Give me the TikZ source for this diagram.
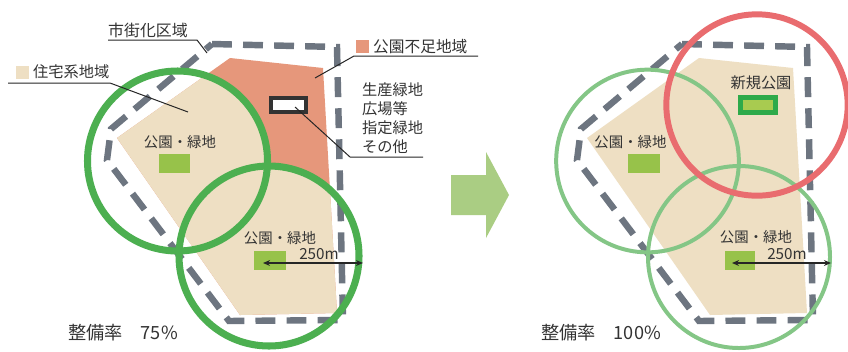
\documentclass[tikz,border=0pt]{standalone}
\usepackage{fontspec}
\setmainfont{Noto Sans CJK JP}
\usetikzlibrary{arrows.meta}
\definecolor{bndgray}{HTML}{6D7580}
\definecolor{gdark}{HTML}{4CAF50}
\definecolor{glight}{HTML}{84C686}
\definecolor{redc}{HTML}{E96C6F}
\definecolor{salmon}{HTML}{E6977B}
\definecolor{beige}{HTML}{EEDFC3}
\definecolor{parkg}{HTML}{97C24A}
\definecolor{newpb}{HTML}{2EAA4A}
\definecolor{newpf}{HTML}{A8CB50}
\definecolor{arrowg}{HTML}{AACD83}
\definecolor{txt}{HTML}{333333}
\begin{document}
\begin{tikzpicture}[x=0.03cm,y=-0.03cm,
  boundary/.style={draw=bndgray,line width=5.5pt,dash pattern=on 17pt off 9.5pt},
  ringA/.style={draw=gdark,line width=6pt},
  ringB/.style={draw=glight,line width=3.4pt},
  ringR/.style={draw=redc,line width=5.1pt},
  park/.style={fill=parkg},
  leader/.style={draw=black!85,line width=0.85pt},
  dist/.style={draw=black!85,line width=1.2pt,{Stealth[length=6pt,width=5pt]}-{Stealth[length=6pt,width=5pt]}},
  lbl/.style={text=txt,inner sep=0pt,font=\fontsize{13pt}{15pt}\selectfont},
  plbl/.style={text=txt,inner sep=0pt,font=\fontsize{12.3pt}{14pt}\selectfont},
  rate/.style={text=txt,inner sep=0pt,anchor=west,font=\fontsize{15.5pt}{18pt}\selectfont}]
\useasboundingbox (0,0) rectangle (848,351);
\fill[white] (0,0) rectangle (848,351);

% ---------- left diagram ----------
\fill[salmon] (117,138) -- (230,58) -- (323,68) -- (337,313) -- (240,315) -- cycle;
\begin{scope}
  \clip (117,138) -- (230,58) -- (323,68) -- (337,313) -- (240,315) -- cycle;
  \fill[beige] (177.5,161) circle[radius=2.7cm];
  \fill[beige] (269,256) circle[radius=2.7cm];
\end{scope}
\draw[boundary] (212,44) -- (337,47) -- (343,320) -- (229,321) -- (107,160) -- (111,129) -- cycle;
\draw[ringA] (177.5,161) circle[radius=2.7cm];
\draw[ringA] (269,256) circle[radius=2.7cm];
\fill[park] (159,154) rectangle (190,173);
\fill[park] (254,251) rectangle (286,270);
\draw[draw=txt,fill=white,line width=3.4pt] (271,98) rectangle (306,112);
\node[plbl] (pkL1) at (180,142) {公園・緑地};
\node[plbl] (pkL2) at (280,238) {公園・緑地};
\coordinate (dL1) at (263,263);
\coordinate (dL2) at (363,263);
\draw[dist] (dL1) -- (dL2);
\node[lbl] (mL) at (319,254) {250m};

% labels
\node[lbl,font=\fontsize{13.6pt}{16pt}\selectfont] (shigai) at (148,30) {市街化区域};
\coordinate (sg1) at (108,40);
\coordinate (sg2) at (197,40);
\coordinate (sg3) at (207,53);
\draw[leader] (sg1) -- (sg2) -- (sg3);

\fill[beige] (16,66) rectangle (29,79);
\node[lbl,anchor=west] (jutaku) at (33,72) {住宅系地域};
\coordinate (jt1) at (8,83);
\coordinate (jt2) at (110,83);
\coordinate (jt3) at (188,112);
\draw[leader] (jt1) -- (jt2) -- (jt3);

\fill[salmon] (356,40) rectangle (369,53);
\node[lbl,anchor=west,font=\fontsize{13.4pt}{16pt}\selectfont] (fusoku) at (373,47) {公園不足地域};
\coordinate (fs1) at (315,78);
\coordinate (fs2) at (354,56);
\coordinate (fs3) at (478,56);
\draw[leader] (fs1) -- (fs2) -- (fs3);

\node[lbl,anchor=west] (ls1) at (362,90) {生産緑地};
\node[lbl,anchor=west] (ls2) at (362,109) {広場等};
\node[lbl,anchor=west] (ls3) at (362,128) {指定緑地};
\node[lbl,anchor=west] (ls4) at (362,147) {その他};
\coordinate (wr1) at (295,107);
\coordinate (wr2) at (350,157);
\coordinate (wr3) at (423,157);
\draw[leader] (wr1) -- (wr2) -- (wr3);

\node[rate] (rateL) at (68,333) {整備率　75\%};

% ---------- big arrow ----------
\fill[arrowg] (451,175) -- (486,175) -- (486,152) -- (509,195) -- (486,238) -- (486,215) -- (451,215) -- cycle;

% ---------- right diagram ----------
\fill[beige] (587,138) -- (699,58) -- (793,68) -- (807,313) -- (710,315) -- cycle;
\draw[boundary] (682,44) -- (807,47) -- (813,320) -- (699,321) -- (577,160) -- (581,129) -- cycle;
\draw[ringB] (647.5,161) circle[radius=2.74cm];
\draw[ringB] (739,257) circle[radius=2.73cm];
\draw[ringR] (757,105) circle[radius=2.72cm];
\fill[park] (628,154) rectangle (660,173);
\fill[park] (725,251) rectangle (755,270);
\draw[draw=newpb,fill=newpf,line width=4.2pt] (740.5,97.5) rectangle (775.5,112.5);
\node[lbl] (newpark) at (761,83) {新規公園};
\node[plbl] (pkR1) at (630.5,142) {公園・緑地};
\node[plbl] (pkR2) at (756,237) {公園・緑地};
\coordinate (dR1) at (732,263);
\coordinate (dR2) at (831,263);
\draw[dist] (dR1) -- (dR2);
\node[lbl] (mR) at (787,254) {250m};

\node[rate] (rateR) at (541,333) {整備率　100\%};
\end{tikzpicture}
\end{document}
